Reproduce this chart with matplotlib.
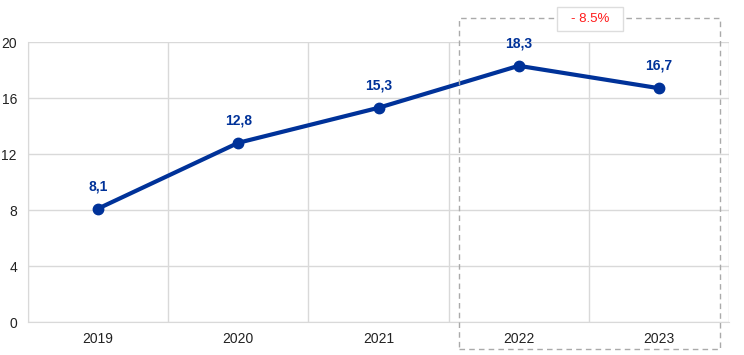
import matplotlib
matplotlib.use("Agg")
import matplotlib.pyplot as plt
from matplotlib.patches import Rectangle

plt.rcParams['font.family'] = ['Liberation Sans', 'DejaVu Sans']

years = ["2019", "2020", "2021", "2022", "2023"]
values = [8.1, 12.8, 15.3, 18.3, 16.7]
value_labels = ["8,1", "12,8", "15,3", "18,3", "16,7"]
yticks = [0, 4, 8, 12, 16, 20]
change_label = "- 8.5%"

W, H = 744, 355
fig = plt.figure(figsize=(W / 100, H / 100), dpi=100)
ax = fig.add_axes([28 / W, 1 - 322 / H, (729 - 28) / W, (322 - 42) / H])

x = list(range(len(years)))
blue = "#003299"
ax.plot(x, values, color=blue, lw=3, marker="o", ms=7.5, zorder=3, clip_on=False)
for xi, v, lab in zip(x, values, value_labels):
    ax.annotate(lab, (xi, v), xytext=(0, 11), textcoords="offset points",
                ha="center", va="bottom", color=blue, fontsize=10, fontweight="bold")

ax.set_xlim(-0.5, len(years) - 0.5)
ax.set_ylim(0, 20)
ax.set_yticks(yticks)
ax.set_yticklabels([str(t) for t in yticks])
ax.set_xticks(x)
ax.set_xticklabels(years)
ax.set_xticks([i - 0.5 for i in range(len(years) + 1)], minor=True)
ax.tick_params(axis="both", which="both", length=0, labelsize=10, colors="#222222")
ax.tick_params(axis="y", pad=8)
ax.tick_params(axis="x", pad=7)
grid_c = "#d9d9d9"
ax.grid(axis="y", which="major", color=grid_c, lw=1)
ax.grid(axis="x", which="minor", color=grid_c, lw=1)
ax.set_axisbelow(True)
for s in ["top", "right"]:
    ax.spines[s].set_visible(False)
ax.spines["left"].set_color(grid_c)
ax.spines["bottom"].set_color(grid_c)

# dashed highlight box around 2022-2023
x0, x1 = 2.571, 4.436
y0, y1 = -1.93, 21.71
rect = Rectangle((x0, y0), x1 - x0, y1 - y0, fill=False, ls=(0, (4, 3)),
                 ec="#aaaaaa", lw=1, clip_on=False, zorder=4)
ax.add_patch(rect)
cx, cy = 3.507, 21.64
bw, bh = 0.471, 1.714
lab_box = Rectangle((cx - bw / 2, cy - bh / 2), bw, bh, fc="white", ec="#dddddd",
                    lw=1, clip_on=False, zorder=5)
ax.add_patch(lab_box)
ax.text(cx, cy, change_label, ha="center", va="center", color="#ff1a1a",
        fontsize=9.5, zorder=6, clip_on=False)

fig.savefig("out.png", dpi=100)
